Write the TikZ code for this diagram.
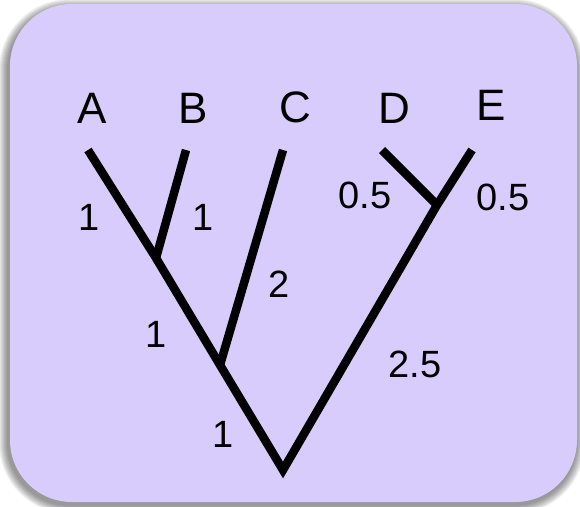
\documentclass[tikz,border=0pt]{standalone}
\usepackage{fontspec}
\setmainfont{Liberation Sans}
\definecolor{boxfill}{RGB}{216,204,252}
\begin{document}
\begin{tikzpicture}[x=1pt,y=-1pt,
  branch/.style={line width=8.5pt,line cap=butt,line join=miter},
  leaf/.style={font=\fontsize{44}{44}\selectfont,anchor=base,inner sep=0pt},
  blen/.style={font=\fontsize{38}{38}\selectfont,anchor=base,inner sep=0pt}]
\useasboundingbox (0,0) rectangle (580,506);
% shadow
\foreach \i in {1,...,9}{
  \fill[black,opacity=0.055,rounded corners={62+\i}] ({10-2-\i},{4+4-\i}) rectangle ({577-1+\i},{502+3+\i});
}
\fill[boxfill,rounded corners=62] (10,4) rectangle (577,502);
% tree points
\coordinate (root) at (283,470);
\coordinate (nAB) at (156,258);
\coordinate (nABC) at (220,365);
\coordinate (nDE) at (437,205);
\coordinate (tA) at (88,150);
\coordinate (tB) at (186,150);
\coordinate (tC) at (283,150);
\coordinate (tD) at (382,150);
\coordinate (tE) at (472,150);
\draw[branch] (tA) -- (nAB) -- (nABC) -- (root) -- (nDE) -- (tE);
\draw[branch] (tB) -- (nAB);
\draw[branch] (tC) -- (nABC);
\draw[branch] (tD) -- (nDE);
% leaf labels
\node[leaf] (lA) at (92,123) {A};
\node[leaf] (lB) at (193,123) {B};
\node[leaf] (lC) at (295,122) {C};
\node[leaf] (lD) at (394,123) {D};
\node[leaf] (lE) at (491,120) {E};
% branch lengths
\node[blen] (bA) at (89,230) {1};
\node[blen] (bB) at (203,230) {1};
\node[blen] (bD) at (365,208) {0.5};
\node[blen] (bE) at (503,210) {0.5};
\node[blen] (bC) at (279,297) {2};
\node[blen] (bAB) at (156,347) {1};
\node[blen] (bABC) at (223,447) {1};
\node[blen] (bDE) at (415,377) {2.5};
\end{tikzpicture}
\end{document}
